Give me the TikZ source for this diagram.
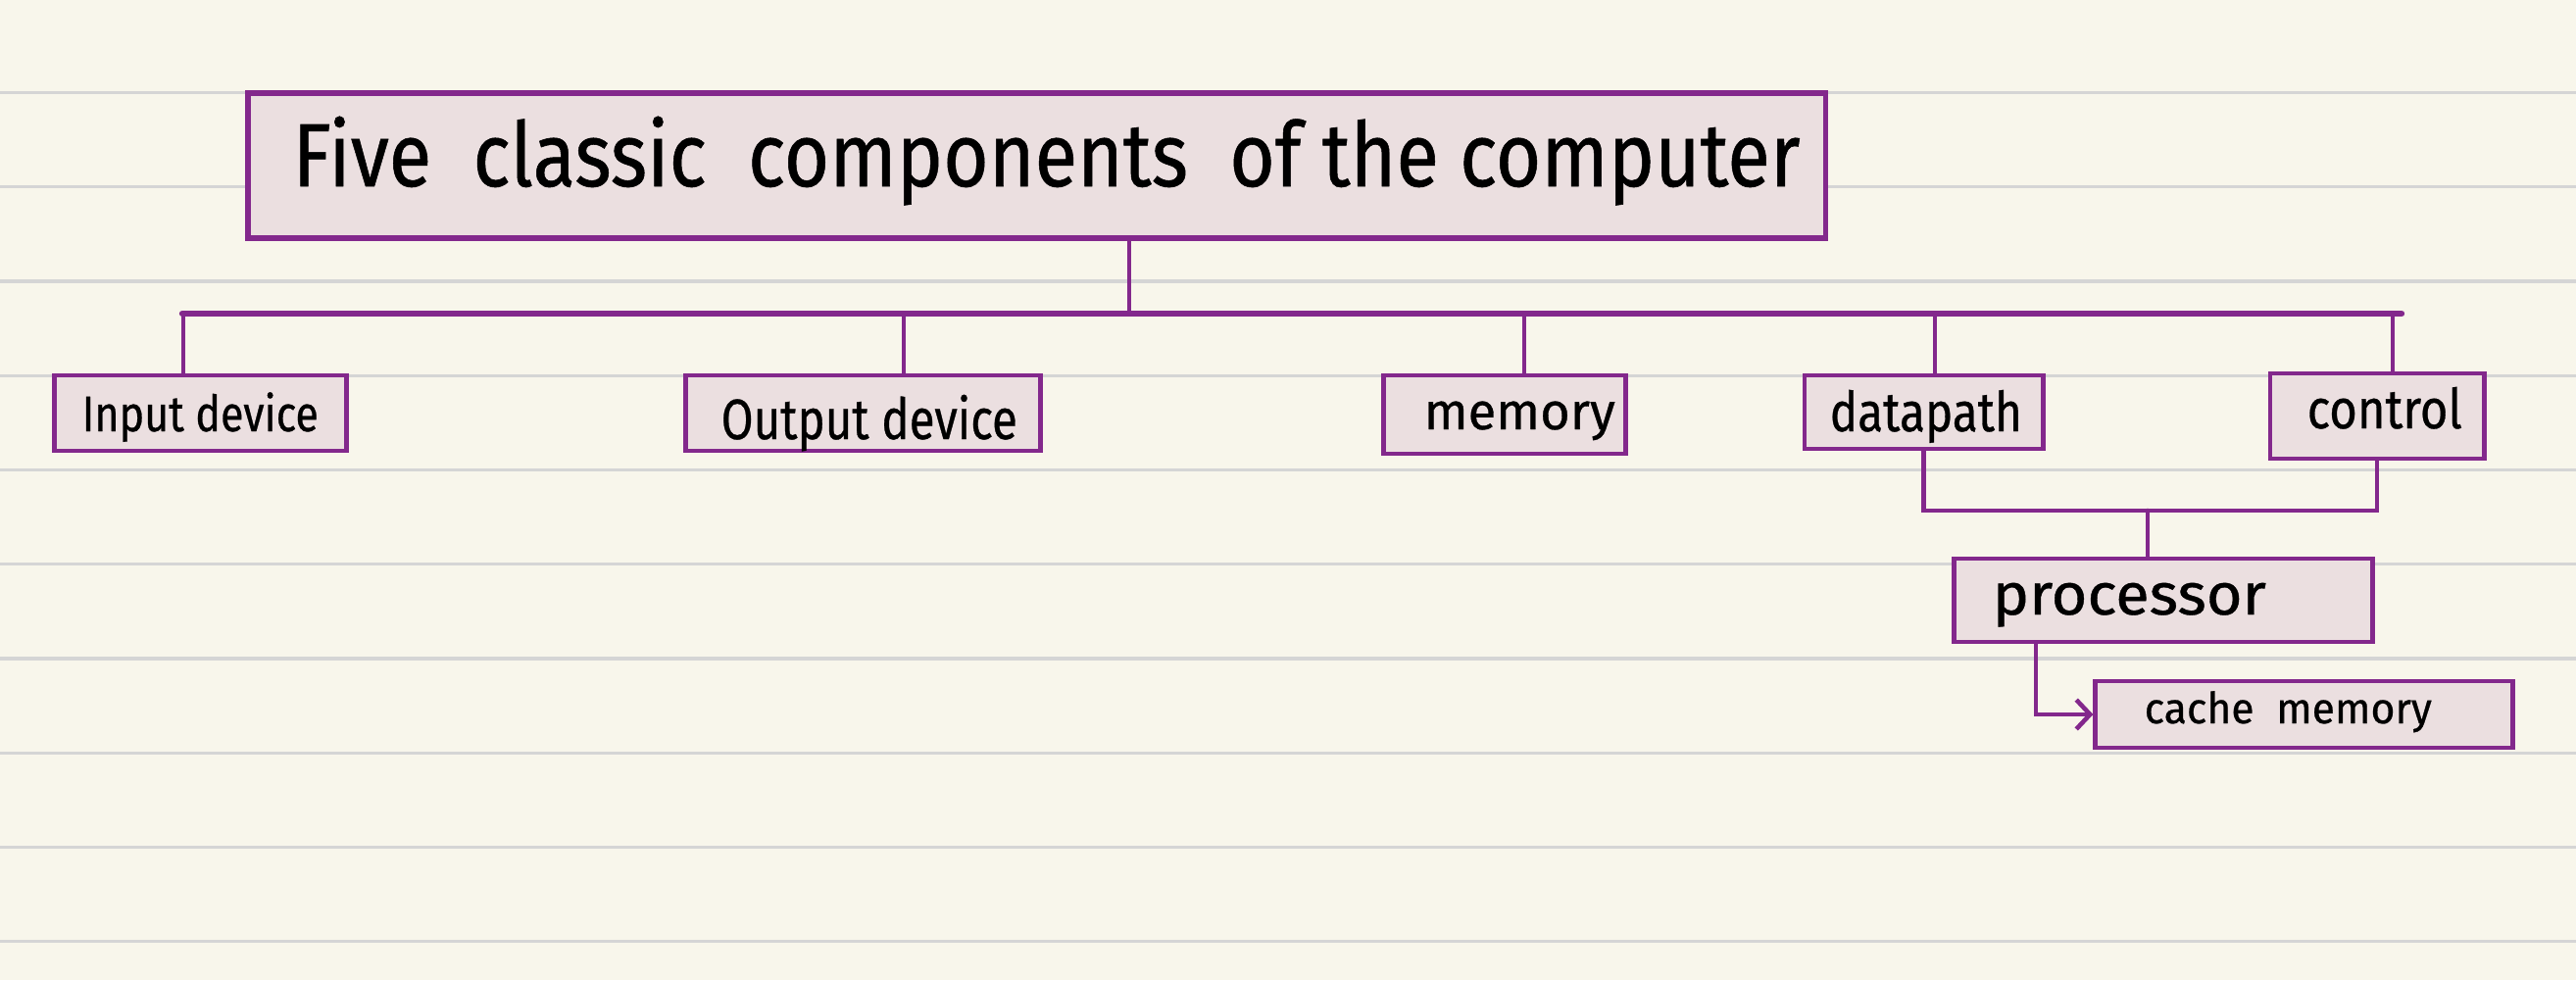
\documentclass[tikz,border=0pt]{standalone}
\usepackage{fontspec}
\setmainfont{Fira Sans}[FakeBold=0.6]
\usetikzlibrary{arrows.meta}
\definecolor{paper}{HTML}{F8F6EB}
\definecolor{rulegray}{HTML}{D5D5D5}
\definecolor{boxfill}{HTML}{EBDFE0}
\definecolor{purp}{HTML}{83288C}
\newcommand{\fitw}[2]{\resizebox{#1}{\height}{#2}}
\begin{document}
\begin{tikzpicture}[x=0.01cm,y=-0.01cm,
  box/.style={draw=purp,fill=boxfill,line width=1.4pt,inner sep=0pt,rectangle},
  lbl/.style={inner sep=0pt,anchor=base west,text=black},
  conn/.style={draw=purp,line width=1.3pt,line cap=round},
  tip/.style={-{Straight Barb[length=4pt,width=8.5pt]}}]
\fill[paper] (0,0) rectangle (2628,1000);
\useasboundingbox (0,0) rectangle (2628,1000);
\foreach \k in {0,...,10}
  \draw[rulegray,line width=0.9pt] (0,{-1.7+96.25*\k}) -- (2628,{-1.7+96.25*\k});

% boxes
\node[box,line width=1.7pt,minimum width=16.09cm,minimum height=1.48cm] (title) at (1057.5,169) {};
\node[box,minimum width=2.97cm,minimum height=0.77cm] (input) at (204.5,421.5) {};
\node[box,minimum width=3.61cm,minimum height=0.77cm] (output) at (880.5,421.5) {};
\node[box,minimum width=2.46cm,minimum height=0.80cm] (memory) at (1535,423) {};
\node[box,minimum width=2.43cm,minimum height=0.75cm] (datapath) at (1962.5,420.5) {};
\node[box,minimum width=2.18cm,minimum height=0.87cm] (control) at (2425,424.5) {};
\node[box,minimum width=4.26cm,minimum height=0.85cm] (processor) at (2207,612.5) {};
\node[box,minimum width=4.25cm,minimum height=0.68cm] (cache) at (2350.5,729) {};

% labels
\node[lbl,font=\fontsize{26}{30}\selectfont] (t-title) at (298,190) {\fitw{15.37cm}{Five\ \ classic\ \ components\ \ of\ the\ computer}};
\node[lbl,font=\fontsize{14.5}{17}\selectfont] (t-input) at (83,440) {\fitw{2.41cm}{Input device}};
\node[lbl,font=\fontsize{16.5}{19}\selectfont] (t-output) at (735,448) {\fitw{3.02cm}{Output device}};
\node[lbl,font=\fontsize{15}{18}\selectfont] (t-memory) at (1452,438) {\fitw{1.95cm}{memory}};
\node[lbl,font=\fontsize{16}{19}\selectfont] (t-datapath) at (1866,440) {\fitw{1.96cm}{datapath}};
\node[lbl,font=\fontsize{16}{19}\selectfont] (t-control) at (2353,437) {\fitw{1.58cm}{control}};
\node[lbl,font=\fontsize{17}{20}\selectfont] (t-processor) at (2032,627) {\fitw{2.79cm}{processor}};
\node[lbl,font=\fontsize{12.5}{15}\selectfont] (t-cache) at (2187,738) {\fitw{2.93cm}{cache\ \ memory}};

% bus and trunk
\coordinate (busL) at (186,320);
\coordinate (busR) at (2450,320);
\draw[conn,line width=1.8pt] (busL) -- (busR);
\coordinate (trunk) at (1152,320);
\draw[conn] (title.south -| trunk) -- (trunk);
\foreach \n/\x in {input/187,output/922,memory/1555,datapath/1974,control/2441}{
  \coordinate (d-\n) at (\x,320);
  \draw[conn] (d-\n) -- (d-\n |- \n.north);
}

% datapath + control -> processor
\coordinate (br) at (2191,521);
\draw[conn] (datapath.south) |- (br) -| (control.south);
\draw[conn] (br) -- (br |- processor.north);

% processor -> cache memory
\coordinate (pc) at (2077,732);
\draw[conn,tip] (processor.south -| pc) |- (cache.west);
\end{tikzpicture}
\end{document}
